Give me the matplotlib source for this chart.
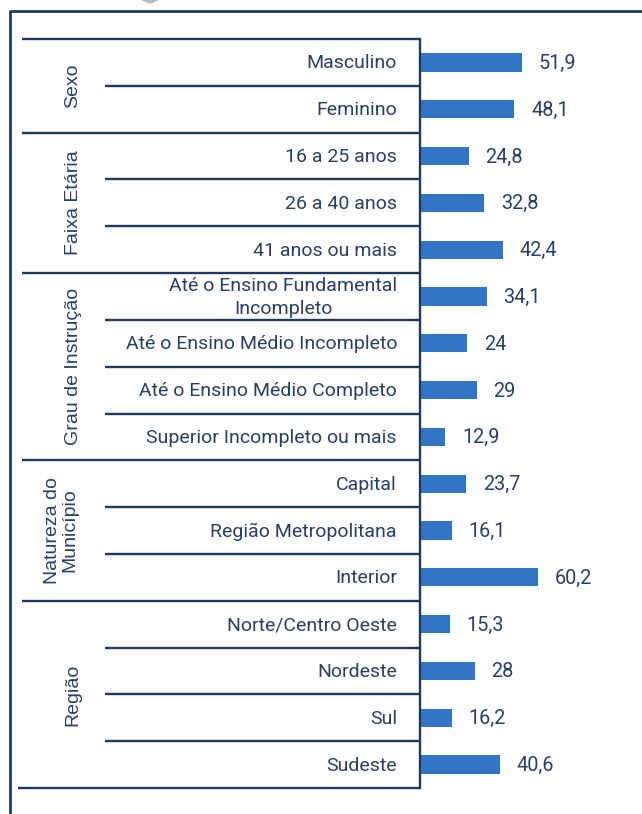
import matplotlib
matplotlib.use("Agg")
import matplotlib.pyplot as plt
from matplotlib.transforms import blended_transform_factory
from matplotlib.patches import Polygon

groups = ["Sexo", "Faixa Etária", "Grau de Instrução", "Natureza do\nMunicípio", "Região"]
group_sizes = [2, 3, 4, 3, 4]
categories = ["Masculino", "Feminino",
              "16 a 25 anos", "26 a 40 anos", "41 anos ou mais",
              "Até o Ensino Fundamental\nIncompleto", "Até o Ensino Médio Incompleto",
              "Até o Ensino Médio Completo", "Superior Incompleto ou mais",
              "Capital", "Região Metropolitana", "Interior",
              "Norte/Centro Oeste", "Nordeste", "Sul", "Sudeste"]
values = [51.9, 48.1, 24.8, 32.8, 42.4, 34.1, 24, 29, 12.9, 23.7, 16.1, 60.2, 15.3, 28, 16.2, 40.6]

W, H = 642, 814
BAR = "#3274C5"
TXT = "#26406A"
LINE = "#1F3A60"

fig = plt.figure(figsize=(W / 100, H / 100), dpi=100)
x0, x1 = 420, 642
y_top, y_bot = 39, 788
ax = fig.add_axes([x0 / W, 1 - y_bot / H, (x1 - x0) / W, (y_bot - y_top) / H])
n = len(categories)
ax.set_ylim(n, 0)
ax.set_xlim(0, (x1 - x0) / 1.962)
ax.axis("off")

ypos = [i + 0.5 for i in range(n)]
ax.barh(ypos, values, height=0.39, color=BAR, left=0)

for y, v in zip(ypos, values):
    lab = f"{v:g}".replace(".", ",")
    ax.annotate(lab, (v, y + 0.02), xytext=(12, 0), textcoords="offset points",
                ha="left", va="center", fontsize=14.3, color=TXT, family="Roboto")

tr = blended_transform_factory(fig.transFigure, ax.transData)
for y, c in zip(ypos, categories):
    ax.text(397 / W, y + 0.02, c, transform=tr, ha="right", va="center", multialignment="center",
            fontsize=14, color=TXT, family="Roboto", linespacing=1.3)

def px(x):
    return x / W

ax.plot([px(22), px(420)], [0, 0], transform=tr, color=LINE, lw=1.7, clip_on=False, solid_capstyle="butt")
start = 0
for g, s in zip(groups, group_sizes):
    for k in range(1, s):
        ax.plot([px(105), px(420)], [start + k, start + k], transform=tr, color=LINE, lw=1.7,
                clip_on=False, solid_capstyle="butt")
    end = start + s
    xl = 18 if end == n else 22
    ax.plot([px(xl), px(420)], [end, end], transform=tr, color=LINE, lw=1.7, clip_on=False,
            solid_capstyle="butt")
    xc = 61 if "\n" in g else 73
    ax.text(px(xc), (start + end) / 2, g, transform=tr, rotation=90, ha="center", va="center",
            multialignment="center", fontsize=14, color=TXT, family="Liberation Sans",
            linespacing=1.0)
    start = end

ax.plot([px(420), px(420)], [0, n], transform=tr, color=LINE, lw=1.7, clip_on=False,
        solid_capstyle="projecting")

fig.add_artist(plt.Line2D([9.5 / W, 9.5 / W, 1.0], [0, 1 - 10.5 / H, 1 - 10.5 / H],
                          transform=fig.transFigure, color=LINE, lw=2.0))
fig.add_artist(Polygon([[141 / W, 1], [159 / W, 1], [150 / W, 1 - 4 / H]], closed=True,
                       transform=fig.transFigure, facecolor="#BBBBBB", edgecolor="none"))

fig.savefig("out.png", dpi=100, facecolor="white")
